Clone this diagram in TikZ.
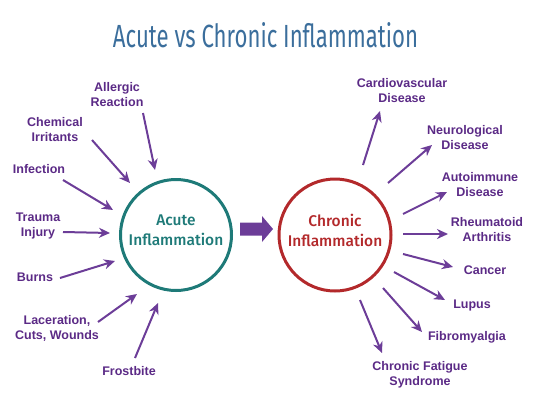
\documentclass[tikz,border=0pt]{standalone}
\usepackage{fontspec}
\setmainfont{Liberation Sans}
\newfontfamily\titlefont{Fira Sans}
\newfontfamily\circfont{Fira Sans Medium}
\usetikzlibrary{arrows.meta}
\definecolor{ttl}{HTML}{3B6E9C}
\definecolor{lblc}{HTML}{5B2A86}
\definecolor{arrc}{HTML}{6C3D98}
\definecolor{teal}{HTML}{1E7A78}
\definecolor{redc}{HTML}{B3292B}
\tikzset{
  lbl/.style={text=lblc, font=\bfseries\fontsize{12.5}{15}\selectfont, align=center, inner sep=0pt},
  arr/.style={draw=arrc, line width=2pt, -{Stealth[length=11pt,width=10pt,inset=3.5pt]}},
  circ/.style={circle, line width=3pt, inner sep=0pt},
  ctext/.style={font=\circfont\fontsize{15.5}{20}\selectfont, align=center, inner sep=0pt}
}
\begin{document}
\begin{tikzpicture}[x=1pt,y=-1pt]
\useasboundingbox (0,0) rectangle (533,410);
% title
\node[inner sep=0pt, text=ttl] (title) at (265.5,35) {\resizebox{305pt}{25pt}{\titlefont Acute vs Chronic Inflammation}};
% circles
\node[circ, draw=teal, minimum size=111pt] (acute) at (176,235) {};
\node[ctext, text=teal] (acutet) at (176,230.5) {Acute\\Inflammation};
\node[circ, draw=redc, minimum size=112pt] (chronic) at (335,235) {};
\node[ctext, text=redc] (chronict) at (335,230.5) {Chronic\\Inflammation};
% block arrow
\fill[arrc] (240,222.5) -- (262,222.5) -- (262,216) -- (273,229) -- (262,242) -- (262,235.5) -- (240,235.5) -- cycle;
% left labels
\node[lbl] (allergic) at (117,95) {Allergic\\Reaction};
\node[lbl] (chemical) at (55,130) {Chemical\\Irritants};
\node[lbl] (infection) at (39,169) {Infection};
\node[lbl] (trauma) at (38,226) {Trauma\\Injury};
\node[lbl] (burns) at (35,277) {Burns};
\node[lbl] (laceration) at (57,328) {Laceration,\\Cuts, Wounds};
\node[lbl] (frostbite) at (129,371) {Frostbite};
% left arrow coordinates
\coordinate (a1s) at (143,113); \coordinate (a1e) at (155,170);
\coordinate (a2s) at (92,140);  \coordinate (a2e) at (130,183);
\coordinate (a3s) at (63,180);  \coordinate (a3e) at (113,210);
\coordinate (a4s) at (63,232);  \coordinate (a4e) at (110,233);
\coordinate (a5s) at (60,278);  \coordinate (a5e) at (115,261);
\coordinate (a6s) at (98,322);  \coordinate (a6e) at (137,294);
\coordinate (a7s) at (135,358); \coordinate (a7e) at (158,303);
\foreach \i in {1,...,7} { \draw[arr] (a\i s) -- (a\i e); }
% right labels
\node[lbl] (cardio) at (402,91) {Cardiovascular\\Disease};
\node[lbl] (neuro) at (465,138) {Neurological\\Disease};
\node[lbl] (auto) at (480,185) {Autoimmune\\Disease};
\node[lbl] (rheum) at (487,230) {Rheumatoid\\Arthritis};
\node[lbl] (cancer) at (485,270) {Cancer};
\node[lbl] (lupus) at (472,305) {Lupus};
\node[lbl] (fibro) at (467,337) {Fibromyalgia};
\node[lbl] (fatigue) at (420,375) {Chronic Fatigue\\Syndrome};
% right arrow coordinates
\coordinate (b1s) at (363,165); \coordinate (b1e) at (380,111);
\coordinate (b2s) at (388,183); \coordinate (b2e) at (432,145);
\coordinate (b3s) at (403,214); \coordinate (b3e) at (447,192);
\coordinate (b4s) at (403,234); \coordinate (b4e) at (448,234);
\coordinate (b5s) at (403,254); \coordinate (b5e) at (453,267);
\coordinate (b6s) at (394,272); \coordinate (b6e) at (445,300);
\coordinate (b7s) at (383,288); \coordinate (b7e) at (422,332);
\coordinate (b8s) at (360,300); \coordinate (b8e) at (382,353);
\foreach \i in {1,...,8} { \draw[arr] (b\i s) -- (b\i e); }
\end{tikzpicture}
\end{document}
